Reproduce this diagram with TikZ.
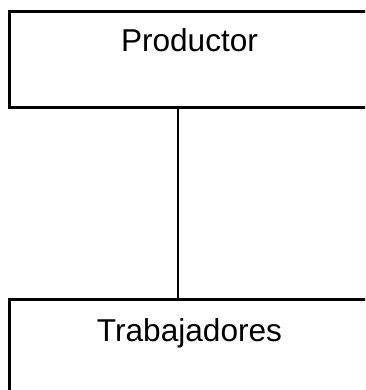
\documentclass[tikz,border=0pt]{standalone}
\usepackage{fontspec}
\setmainfont{Liberation Sans}
\usetikzlibrary{positioning}
\tikzset{
    orgbox/.style={draw, rectangle, line width=2.5pt, outer sep=0pt, inner ysep=0pt,
        minimum width=360pt, text height=40.5pt, font=\fontsize{31.6}{38}\selectfont}
}

\begin{document}
\begin{tikzpicture}[x=1pt, y=-1pt]
                                \clip (0, 0) rectangle (365, 390);
                                \useasboundingbox (0, 0) rectangle (365, 390);
                                \node[orgbox, text depth=55.5pt, anchor=north] (productor) at (189.5, 11.5) {Productor};
                                \node[orgbox, text height=41.5pt, text depth=55.5pt, anchor=north] (trabajadores) at (189.5, 299.5) {Trabajadores};
                                \draw[line width=2.5pt] ([xshift=-11.5pt]productor.south) -- ([xshift=-11.5pt]trabajadores.north);
                            \end{tikzpicture}
\end{document}
